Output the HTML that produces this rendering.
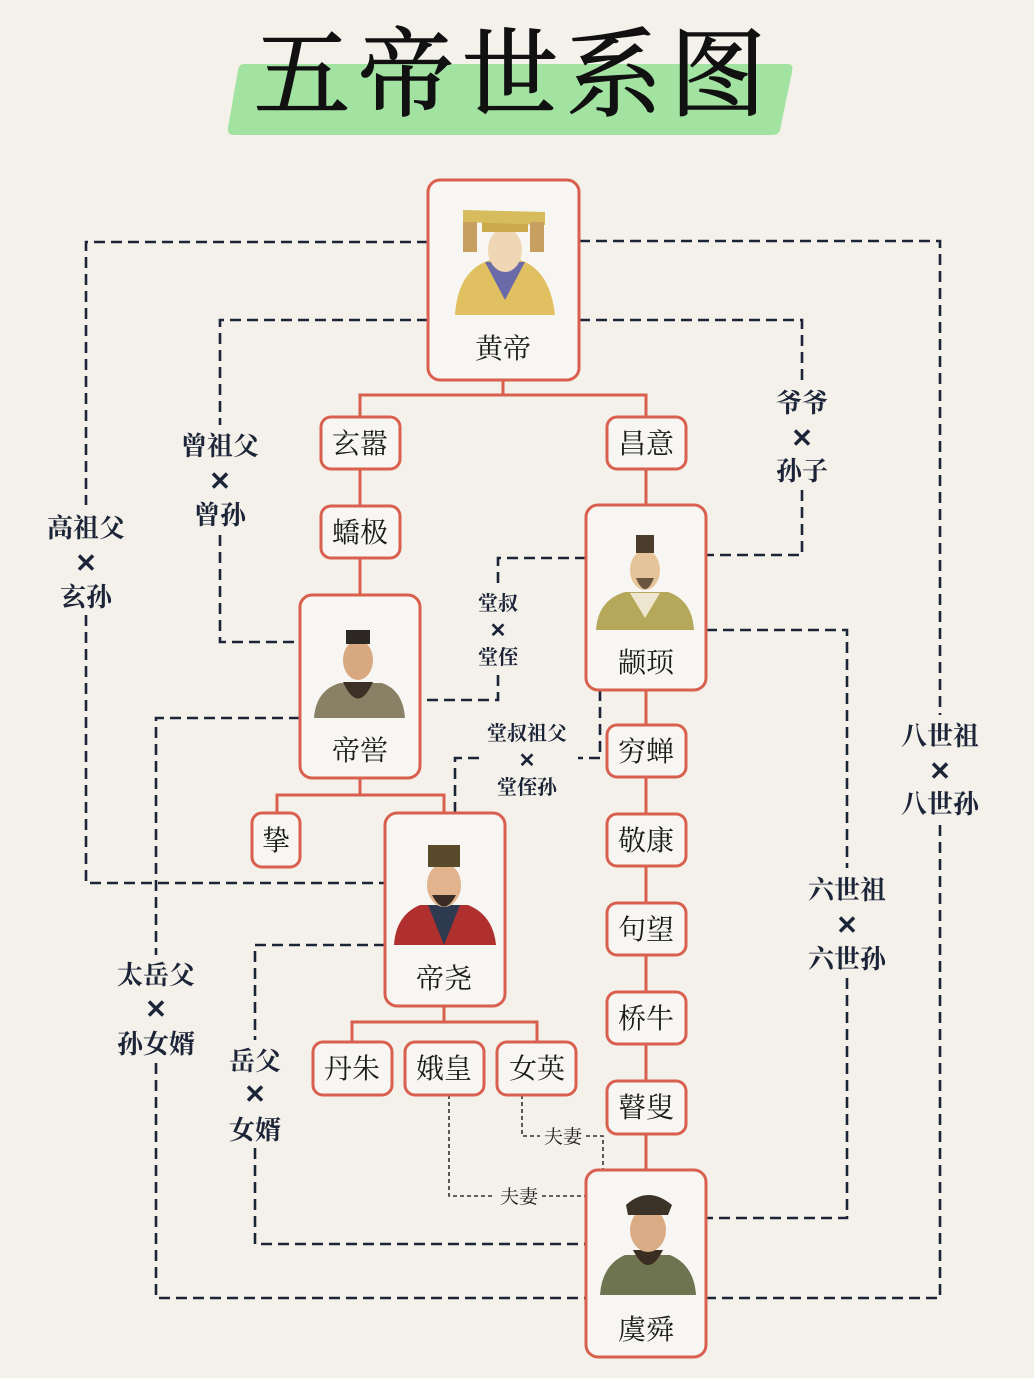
<!DOCTYPE html>
<html><head><meta charset="utf-8"><style>
html,body{margin:0;padding:0;background:#f4f1eb;}
svg{display:block}
text{font-family:"Liberation Serif","Noto Serif CJK SC",serif;}
</style></head><body>
<svg width="1034" height="1378" viewBox="0 0 1034 1378" xmlns="http://www.w3.org/2000/svg">
<rect width="1034" height="1378" fill="#f4f1eb"/>
<!-- title -->
<path d="M244 64 L788 64 Q794 64 792 72 L780 130 Q779 135 772 135 L234 135 Q227 135 228 128 L238 70 Q239 64 244 64Z" fill="#a3e3a1"/>
<text x="254" y="108" font-size="96" font-weight="400" fill="#111" stroke="#111" stroke-width="1.5" textLength="512" lengthAdjust="spacing">五帝世系图</text>

<!-- dashed relation lines -->
<g fill="none" stroke="#1c2438" stroke-width="2.6" stroke-dasharray="11,6">
<polyline points="428,242 86,242 86,505"/><polyline points="86,615 86,883 385,883"/>
<polyline points="428,320 220,320 220,425"/><polyline points="220,535 220,642 300,642"/>
<polyline points="579,320 802,320 802,382"/><polyline points="802,490 802,555 706,555"/>
<polyline points="579,241 940,241 940,715"/><polyline points="940,825 940,1298 706,1298"/>
<polyline points="706,630 847,630 847,868"/><polyline points="847,978 847,1218 706,1218"/>
<polyline points="586,558 498,558 498,585"/><polyline points="498,675 498,700 420,700"/>
<polyline points="600,690 600,758 578,758"/><polyline points="455,813 455,758 480,758"/>
<polyline points="300,718 156,718 156,955"/><polyline points="156,1063 156,1298 586,1298"/>
<polyline points="385,945 255,945 255,1040"/><polyline points="255,1148 255,1244 586,1244"/>
</g>
<g fill="none" stroke="#333" stroke-width="1.6" stroke-dasharray="4,3">
<polyline points="522,1095 522,1136 540,1136"/><polyline points="586,1136 603,1136 603,1170"/>
<polyline points="449,1095 449,1196 494,1196"/><polyline points="542,1196 586,1196"/>
</g>
<g font-size="19" fill="#222" text-anchor="middle">
<text x="563" y="1143">夫妻</text><text x="519" y="1203">夫妻</text>
</g>
<!-- relation labels -->
<g font-size="26" font-weight="700" fill="#1c2438" text-anchor="middle">
<text x="86" y="537">高祖父</text><text x="86" y="572">✕</text><text x="86" y="606">玄孙</text>
<text x="220" y="455">曾祖父</text><text x="220" y="490">✕</text><text x="220" y="524">曾孙</text>
<text x="802" y="412">爷爷</text><text x="802" y="447">✕</text><text x="802" y="480">孙子</text>
<text x="940" y="745">八世祖</text><text x="940" y="780">✕</text><text x="940" y="813">八世孙</text>
<text x="847" y="899">六世祖</text><text x="847" y="934">✕</text><text x="847" y="968">六世孙</text>
<text x="156" y="984">太岳父</text><text x="156" y="1018">✕</text><text x="156" y="1053">孙女婿</text>
<text x="255" y="1070">岳父</text><text x="255" y="1103">✕</text><text x="255" y="1139">女婿</text>
</g>
<g font-size="20" font-weight="700" fill="#1c2438" text-anchor="middle">
<text x="498" y="610">堂叔</text><text x="498" y="637">✕</text><text x="498" y="664">堂侄</text>
<text x="527" y="740">堂叔祖父</text><text x="527" y="767">✕</text><text x="527" y="794">堂侄孙</text>
</g>

<!-- red tree lines -->
<g fill="none" stroke="#d9604f" stroke-width="3">
<polyline points="503,380 503,395"/><polyline points="360,417 360,395 646,395 646,417"/>
<line x1="360" y1="469" x2="360" y2="506"/><line x1="360" y1="558" x2="360" y2="595"/>
<polyline points="360,778 360,795"/><polyline points="277,813 277,795 444,795 444,813"/>
<polyline points="444,1006 444,1022"/><polyline points="352,1042 352,1022 537,1022 537,1042"/>
<line x1="646" y1="469" x2="646" y2="1170"/>
</g>

<!-- nodes -->
<g fill="#f8f6f2" stroke="#d9604f" stroke-width="3">
<rect x="428" y="180" width="151" height="200" rx="12"/>
<rect x="321" y="417" width="79" height="52" rx="10"/>
<rect x="607" y="417" width="79" height="52" rx="10"/>
<rect x="321" y="506" width="79" height="52" rx="10"/>
<rect x="586" y="505" width="120" height="185" rx="12"/>
<rect x="300" y="595" width="120" height="183" rx="12"/>
<rect x="607" y="725" width="79" height="52" rx="10"/>
<rect x="252" y="813" width="48" height="54" rx="10"/>
<rect x="385" y="813" width="120" height="193" rx="12"/>
<rect x="607" y="814" width="79" height="52" rx="10"/>
<rect x="607" y="903" width="79" height="52" rx="10"/>
<rect x="607" y="992" width="79" height="52" rx="10"/>
<rect x="313" y="1042" width="79" height="53" rx="10"/>
<rect x="405" y="1042" width="79" height="53" rx="10"/>
<rect x="497" y="1042" width="79" height="53" rx="10"/>
<rect x="607" y="1081" width="79" height="53" rx="10"/>
<rect x="586" y="1170" width="120" height="187" rx="12"/>
</g>

<!-- portraits -->
<g>
<path d="M455 315 Q458 270 490 260 L520 260 Q550 270 555 315Z" fill="#e0c060"/>
<path d="M485 262 L505 300 L525 262Z" fill="#6b6aa8"/>
<ellipse cx="505" cy="250" rx="17" ry="22" fill="#efd6b5"/>
<rect x="482" y="218" width="46" height="14" fill="#c9a94a"/>
<path d="M463 210 L545 212 L545 225 L463 222Z" fill="#d6bc5c"/>
<rect x="463" y="222" width="14" height="30" fill="#c7a060"/><rect x="530" y="222" width="14" height="30" fill="#c7a060"/>
</g>
<g>
<path d="M596 630 Q598 600 625 592 L668 592 Q692 600 694 630Z" fill="#b6a85a"/>
<path d="M630 593 L645 618 L660 593Z" fill="#efe6d0"/>
<ellipse cx="645" cy="570" rx="15" ry="20" fill="#e6c49a"/>
<path d="M636 578 Q645 600 654 578Z" fill="#6a5540"/>
<rect x="636" y="535" width="18" height="18" fill="#4a3d2c"/>
</g>
<g>
<path d="M314 718 Q316 690 340 683 L382 683 Q403 690 405 718Z" fill="#8a8066"/>
<path d="M343 682 Q358 715 373 682Z" fill="#3d3026"/>
<ellipse cx="358" cy="660" rx="15" ry="20" fill="#d8a880"/>
<rect x="346" y="630" width="24" height="14" fill="#2d2824"/>
</g>
<g>
<path d="M394 945 Q396 915 420 905 L468 905 Q493 915 496 945Z" fill="#b03030"/>
<path d="M428 905 L444 945 L460 905Z" fill="#2e3a50"/>
<ellipse cx="444" cy="885" rx="17" ry="22" fill="#e2b48e"/>
<path d="M432 895 Q444 918 456 895Z" fill="#3a2c24"/>
<rect x="428" y="845" width="32" height="22" fill="#5a4a2c"/>
</g>
<g>
<path d="M600 1295 Q602 1265 625 1255 L670 1255 Q694 1265 696 1295Z" fill="#6e7350"/>
<path d="M633 1250 Q648 1280 663 1250Z" fill="#3a2e24"/>
<ellipse cx="648" cy="1230" rx="18" ry="22" fill="#d9ac85"/>
<path d="M626 1205 Q648 1185 672 1205 L668 1215 L628 1215Z" fill="#3c3328"/>
</g>

<!-- node labels -->
<g font-size="28" fill="#1a1a1a" text-anchor="middle">
<text x="503" y="358">黄帝</text>
<text x="360" y="453">玄嚣</text>
<text x="646" y="453">昌意</text>
<text x="360" y="542">蟜极</text>
<text x="646" y="672">颛顼</text>
<text x="360" y="760">帝喾</text>
<text x="646" y="761">穷蝉</text>
<text x="276" y="850">挚</text>
<text x="444" y="988">帝尧</text>
<text x="646" y="850">敬康</text>
<text x="646" y="939">句望</text>
<text x="646" y="1028">桥牛</text>
<text x="352" y="1078">丹朱</text>
<text x="444" y="1078">娥皇</text>
<text x="537" y="1078">女英</text>
<text x="646" y="1117">瞽叟</text>
<text x="646" y="1339">虞舜</text>
</g>
</svg>
</body></html>
